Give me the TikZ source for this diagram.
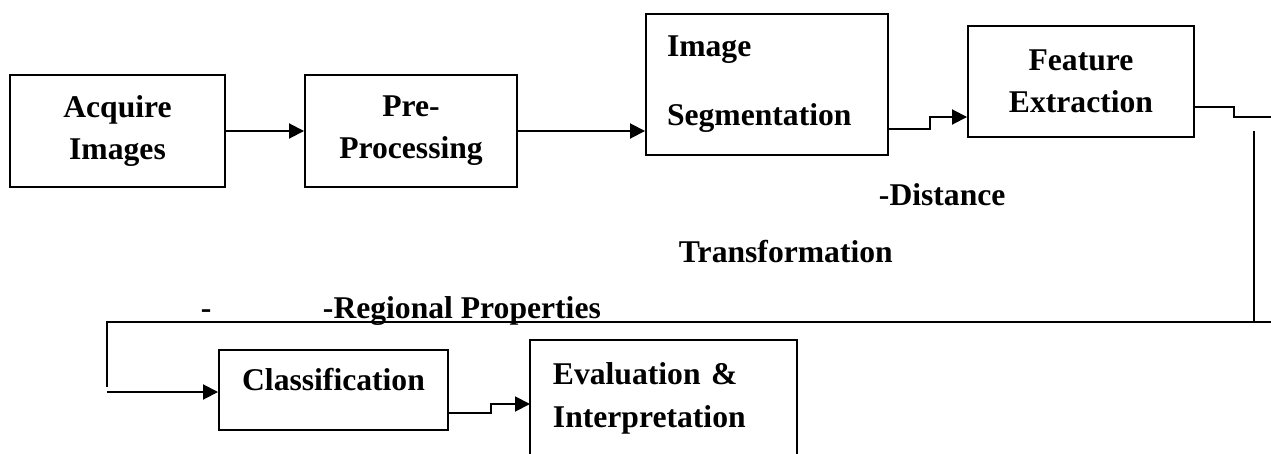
\documentclass[tikz,border=0pt]{standalone}
\usepackage{fontspec}
\setmainfont{Liberation Serif}
\usetikzlibrary{arrows.meta}

\begin{document}
\begin{tikzpicture}[
  blk/.style={draw, line width=1.1pt, align=center, inner sep=0pt,
    font=\fontsize{18}{24}\selectfont\bfseries},
  lbl/.style={inner sep=0pt, font=\fontsize{18}{24}\selectfont\bfseries},
  arr/.style={-{Triangle[length=0.3cm,width=0.3cm]}}
]
\useasboundingbox (0,0) rectangle (25.42,-9.06);

\begin{scope}[line width=1.1pt]
% top row
\node[blk, minimum width=4.30cm, minimum height=2.24cm] (acq) at (2.35,-2.62) {Acquire\\Images};
\node[blk, minimum width=4.24cm, minimum height=2.24cm] (pre) at (8.22,-2.62) {Pre-\\Processing};
\node[blk, minimum width=4.84cm, minimum height=2.82cm, text width=4.0cm, align=left] (seg) at (15.34,-1.69)
{Image\\[0.54cm]Segmentation};
\node[blk, minimum width=4.52cm, minimum height=2.22cm] (feat) at (21.62,-1.63) {Feature\\Extraction};

% bottom row
\node[blk, minimum width=4.58cm, minimum height=1.60cm, text height=0.45cm, text depth=0.45cm] (cls) at (6.67,-7.80)
{Classification};
\node[blk, draw=none, anchor=north west, minimum width=5.30cm, text width=4.42cm, align=left,
  inner xsep=0.44cm, inner ysep=0.44cm] (eval) at (10.60,-6.80) {Evaluation \&\\Interpretation};
\draw ([yshift=-2.3cm]eval.north west) -- (eval.north west) -- (eval.north east) -- ([yshift=-2.3cm]eval.north east);

% notes
\node[lbl, anchor=base west] (dist) at (17.56,-4.10) {-Distance};
\node[lbl, anchor=base west] (trans) at (13.56,-5.24) {Transformation};
\node[lbl, anchor=base west] (dash) at (4.00,-6.36) {-};
\node[lbl, anchor=base west] (reg) at (6.44,-6.36) {-Regional Properties};

% return path
\coordinate (fout) at (25.6,-2.34);
\coordinate (fb1) at (25.08,-2.62);
\coordinate (fb2) at (25.08,-6.44);
\coordinate (fbR) at (25.6,-6.44);
\coordinate (fbL) at (2.14,-6.44);
\coordinate (fbD) at (2.14,-7.74);
\coordinate (fbIn) at (2.14,-7.84);

\draw[arr] (acq) -- (pre);
\draw[arr] (pre.east) -- (pre.east -| seg.west);
\draw[arr] ([yshift=-0.89cm]seg.east) -- ++(0.82,0) |- ([yshift=-0.71cm]feat.west);
\draw ([yshift=-0.51cm]feat.east) -- ++(0.78,0) |- (fout);
\draw (fb1) -- (fb2);
\draw (fbR) -- (fbL) -- (fbD);
\draw[arr] (fbIn) -- (fbIn -| cls.west);
\draw[arr] ([yshift=-0.46cm]cls.east) -- ++(0.84,0) |- ([yshift=-1.28cm]eval.north west);
\end{scope}
\end{tikzpicture}
\end{document}
